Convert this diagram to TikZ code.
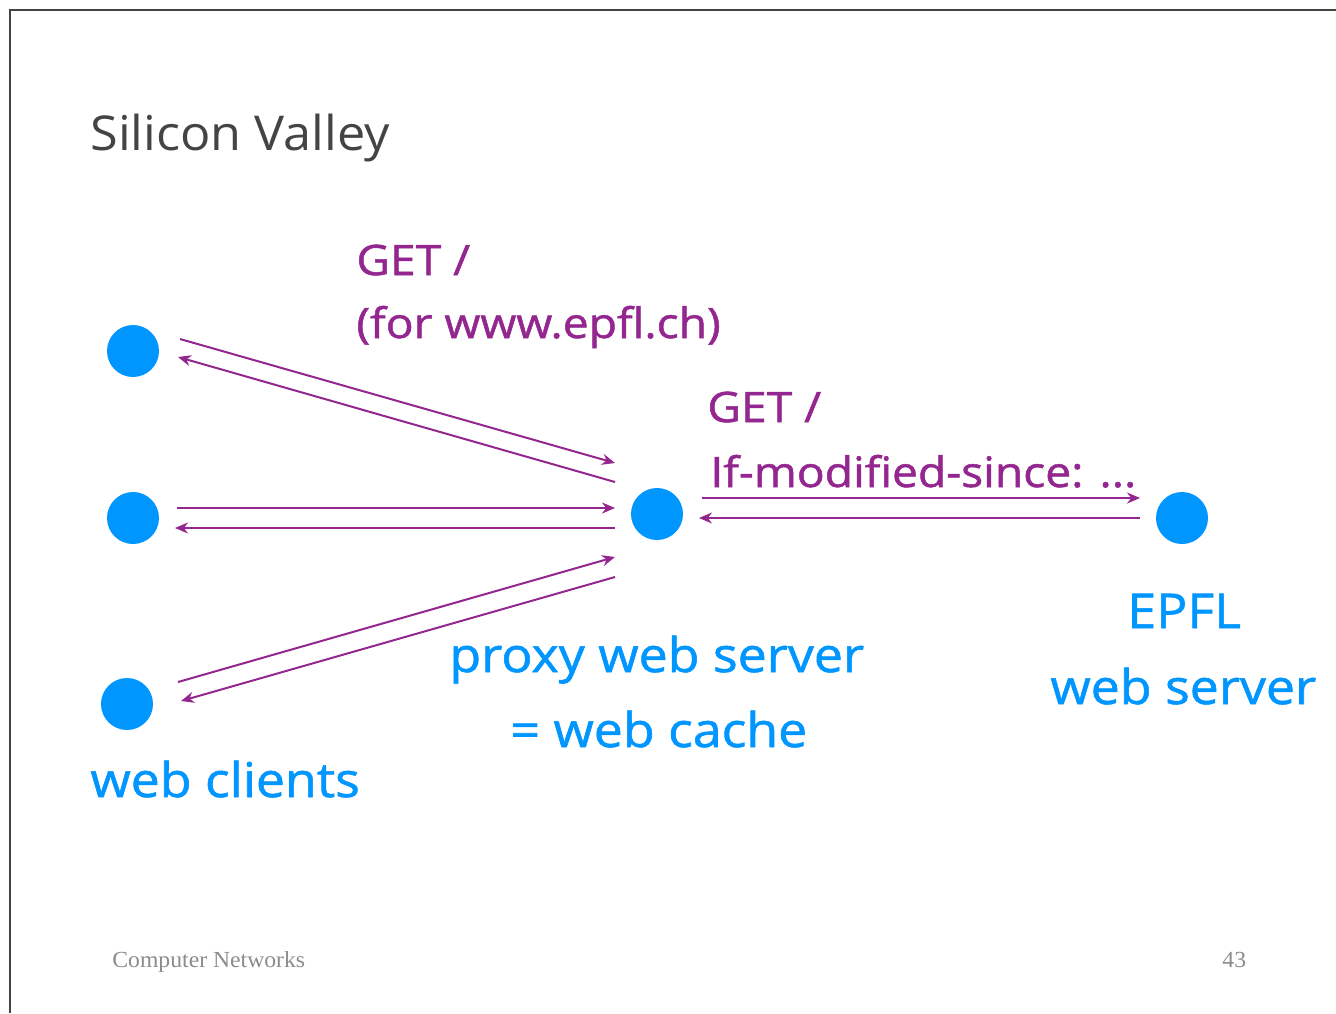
\documentclass[tikz,border=0pt]{standalone}
\usepackage{fontspec}
\setmainfont{Open Sans}
\newfontfamily\titlefont[FakeStretch=1.05]{Open Sans}
\newfontfamily\purplefont[FakeStretch=1.10,FakeBold=1.2]{Open Sans}
\newfontfamily\bluefont[FakeStretch=1.08,FakeBold=1.2]{Open Sans}
\newfontfamily\footfont[FakeStretch=1.03]{Liberation Serif}
\usetikzlibrary{arrows.meta}
\definecolor{dotblue}{HTML}{0096FF}
\definecolor{msgpurple}{HTML}{93278F}
\definecolor{titlegray}{HTML}{444444}
\definecolor{footgray}{HTML}{8C8C8C}
\begin{document}
\begin{tikzpicture}[x=0.5pt,y=-0.5pt,
  host/.style={circle,fill=dotblue,draw=none,minimum size=26pt,inner sep=0pt},
  msg/.style={draw=msgpurple,line width=1pt,-{Stealth[length=6.5pt,width=5.5pt]}},
  purplelabel/.style={anchor=base west,text=msgpurple,font=\purplefont\fontsize{21}{25}\selectfont,inner sep=0pt},
  bluelabel/.style={anchor=base west,text=dotblue,font=\bluefont\fontsize{24}{28}\selectfont,inner sep=0pt},
  foot/.style={anchor=base west,text=footgray,font=\footfont\fontsize{11.5}{14}\selectfont,inner sep=0pt}]
\useasboundingbox (0,0) rectangle (1336,1013);
\fill[white] (0,0) rectangle (1336,1013);
\draw[titlegray,line width=0.6pt] (10,1013) -- (10,10) -- (1336,10);
\node[anchor=base west,text=titlegray,font=\titlefont\fontsize{24}{28}\selectfont,inner sep=0pt] (title) at (90,150) {Silicon Valley};
% hosts
\node[host] (c1) at (133,351) {};
\node[host] (c2) at (133,518) {};
\node[host] (c3) at (127,704) {};
\node[host] (proxy) at (657,514) {};
\node[host] (epfl) at (1182,518) {};
% connector end points
\coordinate (c1a) at (180,339); \coordinate (p1a) at (615,463);
\coordinate (p1b) at (615,482); \coordinate (c1b) at (178,357);
\coordinate (c2a) at (177,508); \coordinate (p2a) at (615,508);
\coordinate (p2b) at (615,528); \coordinate (c2b) at (175,528);
\coordinate (c3a) at (178,682); \coordinate (p3a) at (615,557);
\coordinate (p3b) at (615,577); \coordinate (c3b) at (181,701);
\coordinate (pea) at (702,498); \coordinate (eea) at (1140,498);
\coordinate (eeb) at (1140,518); \coordinate (peb) at (699,518);
\draw[msg] (c1a) -- (p1a);
\draw[msg] (p1b) -- (c1b);
\draw[msg] (c2a) -- (p2a);
\draw[msg] (p2b) -- (c2b);
\draw[msg] (c3a) -- (p3a);
\draw[msg] (p3b) -- (c3b);
\draw[msg] (pea) -- (eea);
\draw[msg] (eeb) -- (peb);
% labels
\node[purplelabel] (get1) at (356,275) {GET /};
\node[purplelabel] (for1) at (356,338) {(for www.epfl.ch)};
\node[purplelabel] (get2) at (707,422) {GET /};
\node[purplelabel] (ifmod) at (710,487) {If-modified-since: ...};
\node[bluelabel] (pws) at (449,672) {proxy web server};
\node[bluelabel] (wc) at (510,747) {= web cache};
\node[bluelabel] (epflt) at (1127,628) {EPFL};
\node[bluelabel] (wst) at (1050,704) {web server};
\node[bluelabel] (wcl) at (90,797) {web clients};
\node[foot] (cn) at (112,967) {Computer Networks};
\node[foot] (pg) at (1222,967) {43};
\end{tikzpicture}
\end{document}
